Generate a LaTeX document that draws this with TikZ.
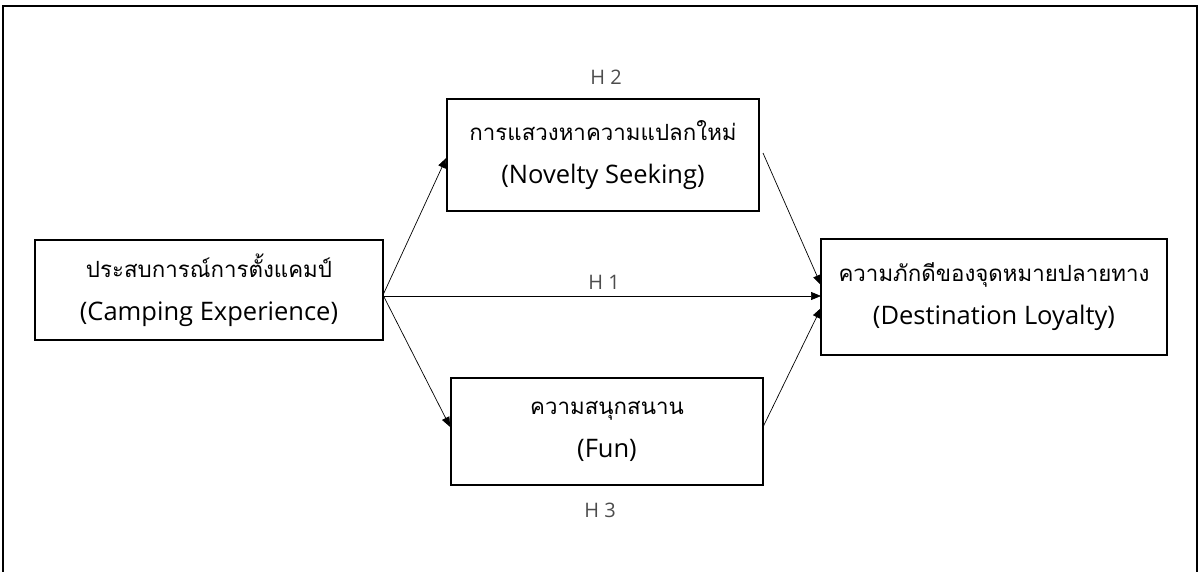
\documentclass[tikz,border=0pt]{standalone}
\usepackage{fontspec}
\usetikzlibrary{arrows.meta}
\newfontfamily\thaifont[Script=Thai]{Loma}
\setmainfont{Open Sans}
\newcommand{\thtxt}[1]{{\thaifont\fontsize{22.3}{43}\selectfont #1}}
\begin{document}
\begin{tikzpicture}[x=1pt,y=-1pt,
  box/.style={draw=black, line width=1.6pt, rectangle, inner sep=0pt, align=center,
    font=\fontsize{25.5}{43}\selectfont},
  conn/.style={line width=0.7pt, -{Triangle[length=10pt,width=8pt]}},
  hlabel/.style={font=\fontsize{20}{22}\selectfont, text=black!70}]
\useasboundingbox (0,0) rectangle (1200,572);
\draw[line width=2pt] (3,572) -- (3,6) -- (1197,6) -- (1197,572);

\node[box, minimum width=348pt, minimum height=100pt] (L) at (209,290)
  {\thtxt{ประสบการณ์การตั้งแคมป์}\\(Camping Experience)};
\node[box, minimum width=312pt, minimum height=112pt] (T) at (603,155)
  {\thtxt{การแสวงหาความแปลกใหม่}\\(Novelty Seeking)};
\node[box, minimum width=312pt, minimum height=107pt] (B) at (607,431.5)
  {\thtxt{ความสนุกสนาน}\\(Fun)};
\node[box, minimum width=346pt, minimum height=116pt] (R) at (994,297)
  {\thtxt{ความภักดีของจุดหมายปลายทาง}\\(Destination Loyalty)};

\coordinate (ls) at (383,295);
\coordinate (ri1) at (821,285);
\coordinate (ri2) at (821,296);
\coordinate (ri3) at (821,308);
\coordinate (to) at (763,153);
\coordinate (bo) at (763,427);

\draw[conn] (ls) -- (T.west |- 0,158);
\draw[conn] (ls) -- (B.west |- 0,427);
\draw[conn] (ls |- ri2) -- (ri2);
\draw[conn] (to) -- (ri1);
\draw[conn] (bo) -- (ri3);

\node[hlabel] (h2) at (606,77) {H 2};
\node[hlabel] (h1) at (604,282) {H 1};
\node[hlabel] (h3) at (600,510) {H 3};
\end{tikzpicture}
\end{document}
